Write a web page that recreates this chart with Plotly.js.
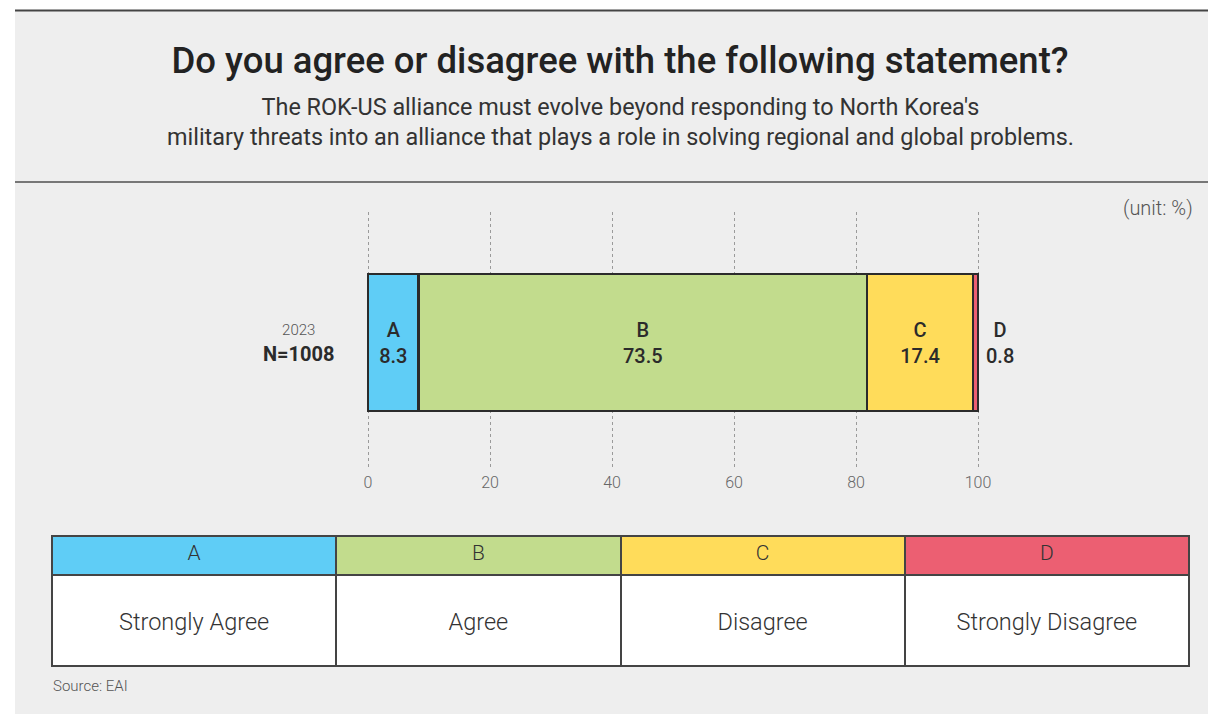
<!DOCTYPE html>
<html>
<head>
<meta charset="utf-8">
<script src="https://cdn.plot.ly/plotly-3.0.1.min.js"></script>
<style>html,body{margin:0;padding:0;background:#fff;}#chart{width:1208px;height:714px;}</style>
</head>
<body>
<div id="chart"></div>
<script>
// ---- data ----
const year = ['2023'];
const codes = ['A', 'B', 'C', 'D'];
const values = [8.3, 73.5, 17.4, 0.8];
const answers = ['Strongly Agree', 'Agree', 'Disagree', 'Strongly Disagree'];
const colors = ['#5fcdf6', '#c2dc8d', '#ffdc5a', '#ec5f72'];
const xTicks = [0, 20, 40, 60, 80, 100];
const sampleLabel = 'N=1008';

const FONT = 'Roboto, "Open Sans", sans-serif';
const NB = '\u00A0';

const traces = codes.map((c, i) => {
  const outside = i === codes.length - 1;
  const pre = outside ? NB : '';
  return {
    type: 'bar',
    orientation: 'h',
    y: year,
    x: [values[i]],
    name: c,
    marker: {color: colors[i], line: {color: '#2b2b2b', width: 2.6}},
    text: [pre + c + '<br>' + pre + values[i].toFixed(1)],
    texttemplate: '%{text}',
    textposition: outside ? 'outside' : 'inside',
    insidetextanchor: 'middle',
    textangle: 0,
    constraintext: 'none',
    cliponaxis: false,
    textfont: {family: FONT, size: 20, color: '#2b2b2b', weight: 500},
    outsidetextfont: {family: FONT, size: 20, color: '#2b2b2b', weight: 500},
    hoverinfo: 'skip',
    showlegend: false
  };
});

traces.push({
  type: 'table',
  domain: {x: [52/1208, 1189/1208], y: [1 - 667/714, 1 - 536/714]},
  columnwidth: [1, 1, 1, 1],
  header: {
    values: codes.map(c => [c]),
    fill: {color: colors},
    line: {color: '#444', width: 2},
    align: 'center',
    height: 39,
    font: {family: FONT, size: 21, color: '#333', weight: 300}
  },
  cells: {
    values: answers.map(a => ['<span style="font-size:17px">' + NB + '</span><br>' + a]),
    fill: {color: '#ffffff'},
    line: {color: '#444', width: 2},
    align: 'center',
    height: 91,
    font: {family: FONT, size: 23.5, color: '#333', weight: 300}
  }
});

const layout = {
  width: 1208,
  height: 714,
  margin: {l: 0, r: 0, t: 0, b: 0},
  paper_bgcolor: '#ffffff',
  plot_bgcolor: 'rgba(0,0,0,0)',
  barmode: 'stack',
  bargap: 0.475,
  font: {family: FONT, color: '#333'},
  title: {
    text: 'Do you agree or disagree with the following statement?',
    x: 620/1208, xanchor: 'center',
    y: 1 - 60/714, yanchor: 'middle',
    font: {family: FONT, size: 36.5, color: '#222', weight: 500}
  },
  xaxis: {
    domain: [364.95/1208, 981.05/1208],
    range: [-0.5, 100.5],
    tickvals: xTicks,
    ticktext: xTicks.map(String),
    showgrid: true,
    gridcolor: '#9a9a9a',
    griddash: '3px,3px',
    gridwidth: 1,
    zeroline: false,
    showline: false,
    ticks: 'outside',
    ticklen: 1,
    tickcolor: 'rgba(0,0,0,0)',
    tickfont: {family: FONT, size: 16, color: '#666', weight: 300},
    fixedrange: true
  },
  yaxis: {
    type: 'category',
    domain: [1 - 467/714, 1 - 212/714],
    range: [-0.477, 0.5],
    showticklabels: false,
    showgrid: false,
    zeroline: false,
    fixedrange: true
  },
  shapes: [
    {type: 'rect', xref: 'paper', yref: 'paper', x0: 15/1208, x1: 1, y0: 0, y1: 1 - 10/714,
     fillcolor: '#eeeeee', line: {width: 0}, layer: 'below'},
    {type: 'line', xref: 'paper', yref: 'paper', x0: 15/1208, x1: 1, y0: 1 - 10.5/714, y1: 1 - 10.5/714,
     line: {color: '#444', width: 2}, layer: 'below'},
    {type: 'line', xref: 'paper', yref: 'paper', x0: 15/1208, x1: 1, y0: 1 - 182/714, y1: 1 - 182/714,
     line: {color: '#777', width: 2}, layer: 'below'}
  ],
  annotations: [
    {xref: 'paper', yref: 'paper', x: 620/1208, y: 1 - 121.5/714, xanchor: 'center', yanchor: 'middle',
     showarrow: false, align: 'center',
     text: 'The ROK-US alliance must evolve beyond responding to North Korea\'s<br>military threats into an alliance that plays a role in solving regional and global problems.',
     font: {family: FONT, size: 23.4, color: '#333'}},
    {xref: 'paper', yref: 'paper', x: 1195/1208, y: 1 - 208/714, xanchor: 'right', yanchor: 'middle',
     showarrow: false, text: '(unit: %)', font: {family: FONT, size: 20, color: '#555', weight: 300}},
    {xref: 'paper', yref: 'paper', x: 298/1208, y: 1 - 343/714, xanchor: 'center', yanchor: 'middle',
     showarrow: false, align: 'center',
     text: '<span style="font-size:15px;color:#555;font-weight:300">' + year[0] + '</span><br><b>' + sampleLabel + '</b>',
     font: {family: FONT, size: 20, color: '#2b2b2b'}},
    {xref: 'paper', yref: 'paper', x: 51/1208, y: 1 - 686/714, xanchor: 'left', yanchor: 'middle',
     showarrow: false, text: 'Source: EAI', font: {family: FONT, size: 15, color: '#555', weight: 300}}
  ]
};

Plotly.newPlot('chart', traces, layout, {displayModeBar: false, staticPlot: true});
</script>
</body>
</html>
